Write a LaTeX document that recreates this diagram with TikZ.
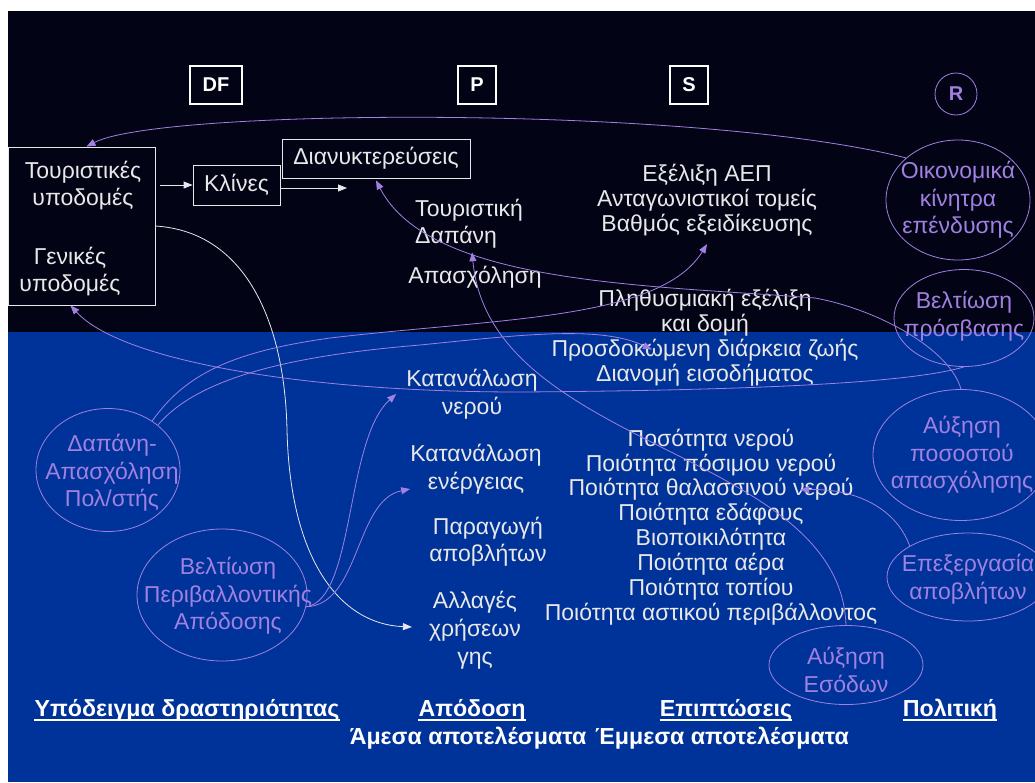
\documentclass[tikz,border=0pt]{standalone}
\usepackage{fontspec}
\setmainfont{Liberation Sans}
\usetikzlibrary{shapes.geometric,arrows.meta}
\definecolor{night}{RGB}{3,3,22}
\definecolor{slide}{RGB}{0,51,153}
\definecolor{lilac}{RGB}{160,128,224}
\definecolor{chalk}{RGB}{232,232,232}

\begin{document}
\begin{tikzpicture}[x=1pt,y=-1pt,
  every node/.style={inner sep=0pt,align=center},
  lbl/.style={text=chalk,font=\fontsize{23}{27}\selectfont},
  lst/.style={text=chalk,font=\fontsize{23}{24.9}\selectfont},
  frame/.style={draw=chalk,line width=.8pt},
  tag/.style={draw=white,line width=1.5pt,text=white,font=\bfseries\fontsize{20}{24}\selectfont,minimum width=38,minimum height=38},
  pol/.style={ellipse,draw=lilac,line width=.8pt},
  poltxt/.style={text=lilac,font=\fontsize{23}{27.5}\selectfont},
  head/.style={text=white,font=\bfseries\fontsize{23.2}{25}\selectfont},
  rule/.style={white,line width=2.5pt},
  wire/.style={chalk,line width=.8pt,-{Triangle[length=9pt,width=7pt]}},
  link/.style={lilac,line width=.8pt,-{Triangle[length=9pt,width=7pt]}}]

  \clip (0,0) rectangle (1035,782);
  \fill[white] (0,0) rectangle (1035,782);
  \fill[night] (8,11) rectangle (1035,332);
  \fill[slide] (8,332) rectangle (1035,782);

  \node[tag,minimum width=52] (df) at (216,85) {DF};
  \node[tag] (p) at (477,85) {P};
  \node[tag] (s) at (689,85) {S};
  \node[circle,draw=lilac,line width=.8pt,text=lilac,minimum size=42,font=\bfseries\fontsize{20}{24}\selectfont] (r) at (956,94) {R};

  \node[frame,minimum width=147,minimum height=158] (infra) at (81.5,226) {};
  \node[lbl] (tour) at (83,186) {Τουριστικές\\υποδομές};
  \node[lbl] (gen) at (70,272) {Γενικές\\υποδομές};
  \node[frame,lbl,minimum width=87,minimum height=40] (beds) at (236.5,185) {Κλίνες};
  \node[frame,lbl,minimum width=188,minimum height=39] (nights) at (376,158.5) {Διανυκτερεύσεις};
  \coordinate (stay) at (347,188);

  \node[lbl,align=left,anchor=west] (spend) at (415,223.5) {Τουριστική\\Δαπάνη};
  \node[lbl] (jobs) at (475,277) {Απασχόληση};
  \node[lst] (gdp) at (707,200) {Εξέλιξη ΑΕΠ\\Ανταγωνιστικοί τομείς\\Βαθμός εξειδίκευσης};
  \node[lst] (pop) at (705,337.5) {Πληθυσμιακή εξέλιξη\\και δομή\\Προσδοκώμενη διάρκεια ζωής\\Διανομή εισοδήματος};
  \node[lst] (impact) at (711,527) {Ποσότητα νερού\\Ποιότητα πόσιμου νερού\\Ποιότητα θαλασσινού νερού\\Ποιότητα εδάφους\\Βιοποικιλότητα\\Ποιότητα αέρα\\Ποιότητα τοπίου\\Ποιότητα αστικού περιβάλλοντος};

  \node[lbl,font=\fontsize{23}{28}\selectfont] (water) at (472,394) {Κατανάλωση\\νερού};
  \node[lbl,font=\fontsize{23}{28}\selectfont] (energy) at (476,469) {Κατανάλωση\\ενέργειας};
  \node[lbl] (waste) at (488,541.5) {Παραγωγή\\αποβλήτων};
  \node[lbl,font=\fontsize{23}{28}\selectfont] (land) at (475,630) {Αλλαγές\\χρήσεων\\γης};

  \node[pol,minimum width=144,minimum height=120] (incent) at (958,200) {};
  \node[poltxt] (incent-t) at (incent) {Οικονομικά\\κίνητρα\\επένδυσης};
  \node[pol,minimum width=140,minimum height=97] (access) at (964,318) {};
  \node[poltxt] (access-t) at (964,316) {Βελτίωση\\πρόσβασης};
  \node[pol,minimum width=176,minimum height=131] (share) at (961,455) {};
  \node[poltxt] (share-t) at (962,455) {Αύξηση\\ποσοστού\\απασχόλησης};
  \node[pol,minimum width=162,minimum height=88] (treat) at (968,577) {};
  \node[poltxt] (treat-t) at (968,579) {Επεξεργασία\\αποβλήτων};
  \node[pol,minimum width=154,minimum height=79] (revenue) at (846,665) {};
  \node[poltxt] (revenue-t) at (846,670) {Αύξηση\\Εσόδων};
  \node[pol,minimum width=144,minimum height=123] (spendjob) at (108,470) {};
  \node[poltxt] (spendjob-t) at (112,473) {Δαπάνη-\\Απασχόληση\\Πολ/στής};
  \node[pol,minimum width=170,minimum height=132] (envperf) at (222,595) {};
  \node[poltxt] (envperf-t) at (228,596) {Βελτίωση\\Περιβαλλοντικής\\Απόδοσης};

  \node[head] (model) at (187,710) {Υπόδειγμα δραστηριότητας};
  \node[head] (perf) at (472,710) {Απόδοση};
  \node[head] (effect) at (726,710) {Επιπτώσεις};
  \node[head] (policy) at (950,710) {Πολιτική};
  \node[head] (direct) at (468,738) {Άμεσα αποτελέσματα};
  \node[head] (indirect) at (722,738) {Έμμεσα αποτελέσματα};
  \foreach \h in {model,perf,effect,policy}
    \draw[rule] (\h.west |- 0,720) -- (\h.east |- 0,720);

  \draw[wire] ([xshift=5pt]infra.east |- beds.west) -- (beds.west);
  \draw[wire] (beds.east |- stay) -- (stay);
  \draw[wire] (infra.east) .. controls (250,232) and (285,330) .. (287,430)
                           .. controls (290,560) and (340,624) .. ([xshift=-17pt,yshift=3pt]land.west);

  \draw[link] (incent.141) .. controls (700,105) and (160,108) .. ([xshift=5pt]infra.north);
  \draw[link] (share.north) .. controls (950,350) and (880,310) .. (815,298)
                            .. controls (650,285) and (430,285) .. ([yshift=-2pt]nights.south);
  \draw[link] (access.south) .. controls (920,380) and (800,390) .. (520,392)
                             .. controls (300,392) and (120,360) .. ([xshift=-11pt]infra.south);
  \draw[link] (spendjob.48) .. controls (185,375) and (230,352) .. (330,338)
                            .. controls (500,318) and (660,320) .. ([yshift=-8pt]gdp.south);
  \draw[link] (spendjob.42) .. controls (200,375) and (300,355) .. (420,345)
                            .. controls (520,335) and (600,325) .. ([xshift=-53pt,yshift=-12pt]pop.center);
  \draw[link] (envperf.-8) .. controls (355,600) and (345,440) .. ([xshift=-10pt]water.west);
  \draw[link] (envperf.-8) .. controls (360,605) and (355,500) .. ([yshift=-20pt]energy.west);
  \draw[link] (revenue.north) .. controls (840,450) and (490,450) .. ([xshift=3pt,yshift=-4pt]spend.south);
  \draw[link] (treat.152) .. controls (895,505) and (850,488) .. ([shift={(89,-37)}]impact.center);
\end{tikzpicture}
\end{document}
